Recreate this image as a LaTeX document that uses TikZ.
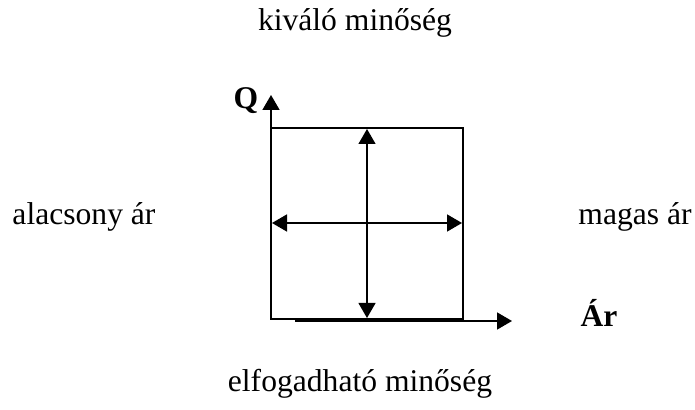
\documentclass[tikz,border=0pt]{standalone}
\usepackage{fontspec}
\setmainfont{Liberation Serif}
\usetikzlibrary{arrows.meta}

\begin{document}
\begin{tikzpicture}[
  x=0.5pt, y=-0.5pt,
  >={Triangle[length=7.5pt, width=8.5pt]},
  txt/.style={font=\fontsize{15.8}{19}\selectfont, inner sep=0pt},
  axtxt/.style={font=\fontsize{15.8}{19}\selectfont\bfseries, inner sep=0pt},
]

%% ─── coordinates ──────────────────────────────────────────
%%  picture in pixels: x ∈ [0, 695], y ∈ [0, 410] (downwards)
%%  square: x = 271 .. 463,  y = 128 .. 319
\useasboundingbox (0,0) rectangle (695,410);

% ── square ─────────────────────────────────────────────────
\coordinate (sq-nw) at (271,128);
\coordinate (sq-se) at (463,319);
\draw[line width=1.25pt] (sq-nw) rectangle (sq-se);

% ── axes ───────────────────────────────────────────────────
\coordinate (origin)  at (271,319);
\coordinate (y-end)   at (271,95);
\coordinate (x-start) at (295,321);
\coordinate (x-end)   at (512,321);
\draw[->, line width=0.8pt] (origin) -- (y-end);
\draw[->, line width=0.8pt] (x-start) -- (x-end);

\node[axtxt, anchor=base] (q-lbl)  at (246,109) {Q};
\node[axtxt, anchor=base] (ar-lbl) at (599,327) {Ár};

% ── double arrows across the square ───────────────────────
\coordinate (top-mid)   at (367,129);
\coordinate (bot-mid)   at (367,318);
\coordinate (left-mid)  at (272,223);
\coordinate (right-mid) at (462,223);
\draw[<->, line width=0.6pt] (top-mid) -- (bot-mid);
\draw[<->, line width=0.8pt] (left-mid) -- (right-mid);

% ── side texts ─────────────────────────────────────────────
\node[txt, anchor=base] (top-txt)    at (355,31)  {kiváló minőség};
\node[txt, anchor=base] (left-txt)   at (84,225)  {alacsony ár};
\node[txt, anchor=base] (right-txt)  at (635,225) {magas ár};
\node[txt, anchor=base] (bottom-txt) at (360,392) {elfogadható minőség};

\end{tikzpicture}
\end{document}
